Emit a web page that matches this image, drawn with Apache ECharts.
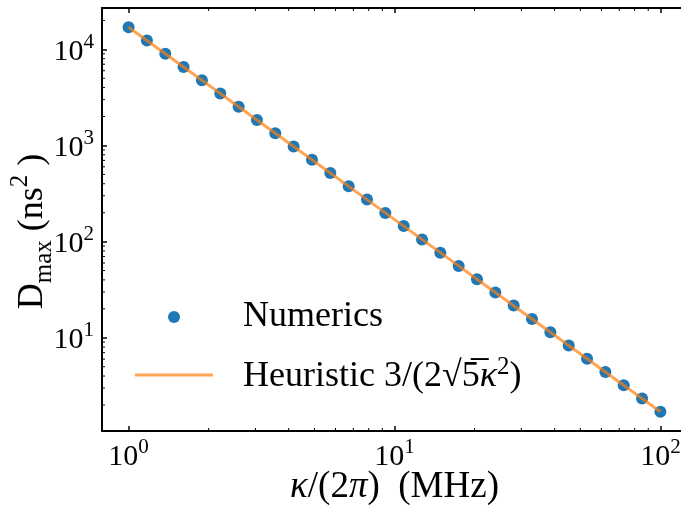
<!DOCTYPE html>
<html>
<head>
<meta charset="utf-8">
<script src="https://cdn.jsdelivr.net/npm/echarts@6/dist/echarts.min.js"></script>
<style>
  html, body { margin: 0; padding: 0; background: #fff; }
  #chart { width: 681px; height: 506px; }
</style>
</head>
<body>
<div id="chart"></div>
<script>
// Coupling rate kappa/(2 pi) in MHz, log-spaced samples
const kappaMHz = [1, 1.172, 1.374, 1.610, 1.887, 2.212, 2.593, 3.039, 3.562, 4.175,
  4.894, 5.736, 6.723, 7.881, 9.237, 10.83, 12.69, 14.87, 17.43, 20.43,
  23.95, 28.07, 32.90, 38.57, 45.20, 52.98, 62.10, 72.79, 85.32, 100];
// Maximum D (ns^2) found numerically
const numericsD = [16990, 12370, 9000, 6550, 4770, 3470, 2530, 1840, 1340, 975,
  709, 516, 376, 274, 199, 145, 105.5, 76.8, 55.9, 40.7,
  29.6, 21.6, 15.7, 11.4, 8.32, 6.05, 4.41, 3.21, 2.33, 1.70];
// Heuristic curve 3/(2 sqrt5 kappa^2) evaluated at the same rates
const heuristicD = [16990, 12367, 9002, 6553, 4770, 3472, 2527, 1839, 1339, 974.6,
  709.4, 516.4, 375.8, 273.6, 199.1, 144.9, 105.5, 76.80, 55.90, 40.69,
  29.62, 21.56, 15.69, 11.42, 8.315, 6.052, 4.405, 3.207, 2.334, 1.699];

// Axis extents (log axes)
const xRange = [0.7943, 125.9];
const yRange = [1.072, 26920];
// Minor tick values
const xMinor = [2, 3, 4, 5, 6, 7, 8, 9, 20, 30, 40, 50, 60, 70, 80, 90];
const yMinor = [2, 3, 4, 5, 6, 7, 8, 9, 20, 30, 40, 50, 60, 70, 80, 90,
  200, 300, 400, 500, 600, 700, 800, 900, 2000, 3000, 4000, 5000, 6000, 7000, 8000, 9000, 20000];

const SERIF = '"Liberation Serif", "DejaVu Serif", serif';
const BLUE = '#1f77b4';
const ORANGE = 'rgba(255,127,14,0.7)';
// Legend key for the curve: a thin bar centred in a 78x12 box
const LINE_KEY = 'path://M0,0 M78,12 M0,4.5 L78,4.5 L78,7.5 L0,7.5 Z';

function powLabel(v) {
  const e = Math.log10(v);
  const r = Math.round(e);
  if (Math.abs(e - r) > 1e-6) return '';
  return '{b|10}{s|' + r + '}';
}
const tickRich = {
  b: { fontFamily: SERIF, fontSize: 30, color: '#000', verticalAlign: 'bottom' },
  s: { fontFamily: SERIF, fontSize: 21, color: '#000', verticalAlign: 'bottom', padding: [0, 0, 14, 0] }
};

const chart = echarts.init(document.getElementById('chart'), null, { renderer: 'canvas' });

function minorTicks(name, data, dir) {
  return {
    name: name,
    type: 'custom',
    xAxisIndex: 0,
    yAxisIndex: 0,
    silent: true,
    z: 5,
    data: data,
    renderItem: function (params, api) {
      const cs = params.coordSys;
      const p = api.coord([api.value(0), api.value(1)]);
      const st = { stroke: '#000', lineWidth: 1 };
      if (dir === 'x') {
        const yb = cs.y + cs.height;
        return {
          type: 'group',
          children: [
            { type: 'line', shape: { x1: p[0], y1: yb, x2: p[0], y2: yb - 3 }, style: st },
            { type: 'line', shape: { x1: p[0], y1: cs.y, x2: p[0], y2: cs.y + 3 }, style: st }
          ]
        };
      }
      return { type: 'line', shape: { x1: cs.x, y1: p[1], x2: cs.x + 3, y2: p[1] }, style: st };
    }
  };
}

const axisCommon = {
  type: 'log',
  logBase: 10,
  splitLine: { show: false },
  minorTick: { show: false },
  axisLine: { show: true, lineStyle: { color: '#000', width: 2 } },
  axisTick: { show: true, inside: true, length: 5, lineStyle: { color: '#000', width: 1.5 } }
};

chart.setOption({
  animation: false,
  backgroundColor: '#fff',
  grid: { left: 102, top: 8, width: 585, height: 423, containLabel: false, outerBoundsMode: 'none' },
  legend: {
    data: [
      { name: 'Numerics', icon: 'circle' },
      { name: 'Heuristic', icon: LINE_KEY }
    ],
    orient: 'vertical',
    left: 130,
    top: 294,
    itemWidth: 78,
    itemHeight: 12,
    itemGap: 20,
    textStyle: {
      fontFamily: SERIF, fontSize: 36, color: '#000', padding: [0, 0, 0, 25],
      rich: {
        n: { fontFamily: SERIF, fontSize: 36, color: '#000', verticalAlign: 'bottom' },
        o: { fontFamily: SERIF, fontSize: 36, color: '#000', verticalAlign: 'bottom' },
        i: { fontFamily: SERIF, fontSize: 36, color: '#000', fontStyle: 'italic', verticalAlign: 'bottom' },
        sup: { fontFamily: SERIF, fontSize: 25, color: '#000', verticalAlign: 'bottom', padding: [0, 0, 15, 0] }
      }
    },
    formatter: function (name) {
      if (name === 'Numerics') return '{n|Numerics}';
      return '{n|Heuristic 3/(2\u221A}{o|5\u0305}{i|\u03BA}{sup|2}{n|)}';
    }
  },
  xAxis: [
    Object.assign({}, axisCommon, {
      position: 'bottom',
      min: xRange[0],
      max: xRange[1],
      axisLabel: { show: true, margin: 6, formatter: powLabel, rich: tickRich, showMinLabel: false, showMaxLabel: false },
      name: '{i|\u03BA}{n|/(2}{i|\u03C0}{n|)  (MHz)}',
      nameLocation: 'middle',
      nameGap: 38,
      nameMoveOverlap: false,
      nameTextStyle: {
        rich: {
          n: { fontFamily: SERIF, fontSize: 37, color: '#000', verticalAlign: 'bottom' },
          i: { fontFamily: SERIF, fontSize: 37, color: '#000', fontStyle: 'italic', verticalAlign: 'bottom' }
        }
      }
    }),
    Object.assign({}, axisCommon, {
      position: 'top',
      min: xRange[0],
      max: xRange[1],
      axisLabel: { show: false }
    })
  ],
  yAxis: [
    Object.assign({}, axisCommon, {
      position: 'left',
      min: yRange[0],
      max: yRange[1],
      axisLabel: { show: true, margin: 8, formatter: powLabel, rich: tickRich, showMinLabel: false, showMaxLabel: false },
      name: '{n|D}{sub|max}{n| (ns}{sup|2}{n| )}',
      nameLocation: 'middle',
      nameRotate: 90,
      nameGap: 45,
      nameMoveOverlap: false,
      nameTextStyle: {
        padding: [0, 24, 0, 0],
        rich: {
          n: { fontFamily: SERIF, fontSize: 36, color: '#000', verticalAlign: 'bottom', padding: [0, 0, 6, 0] },
          sub: { fontFamily: SERIF, fontSize: 25, color: '#000', verticalAlign: 'bottom' },
          sup: { fontFamily: SERIF, fontSize: 25, color: '#000', verticalAlign: 'bottom', padding: [0, 0, 24, 0] }
        }
      }
    })
  ],
  series: [
    {
      name: 'Numerics',
      type: 'scatter',
      data: kappaMHz.map((x, i) => [x, numericsD[i]]),
      symbol: 'circle',
      symbolSize: 12,
      itemStyle: { color: BLUE, opacity: 1 },
      z: 2
    },
    {
      name: 'Heuristic',
      type: 'line',
      data: kappaMHz.map((x, i) => [x, heuristicD[i]]),
      symbol: 'none',
      showSymbol: false,
      lineStyle: { color: ORANGE, width: 3 },
      itemStyle: { color: ORANGE },
      z: 3
    },
    minorTicks('xminor', xMinor.map(v => [v, yRange[0] * 1.5]), 'x'),
    minorTicks('yminor', yMinor.map(v => [xRange[0] * 1.5, v]), 'y')
  ]
});
</script>
</body>
</html>
